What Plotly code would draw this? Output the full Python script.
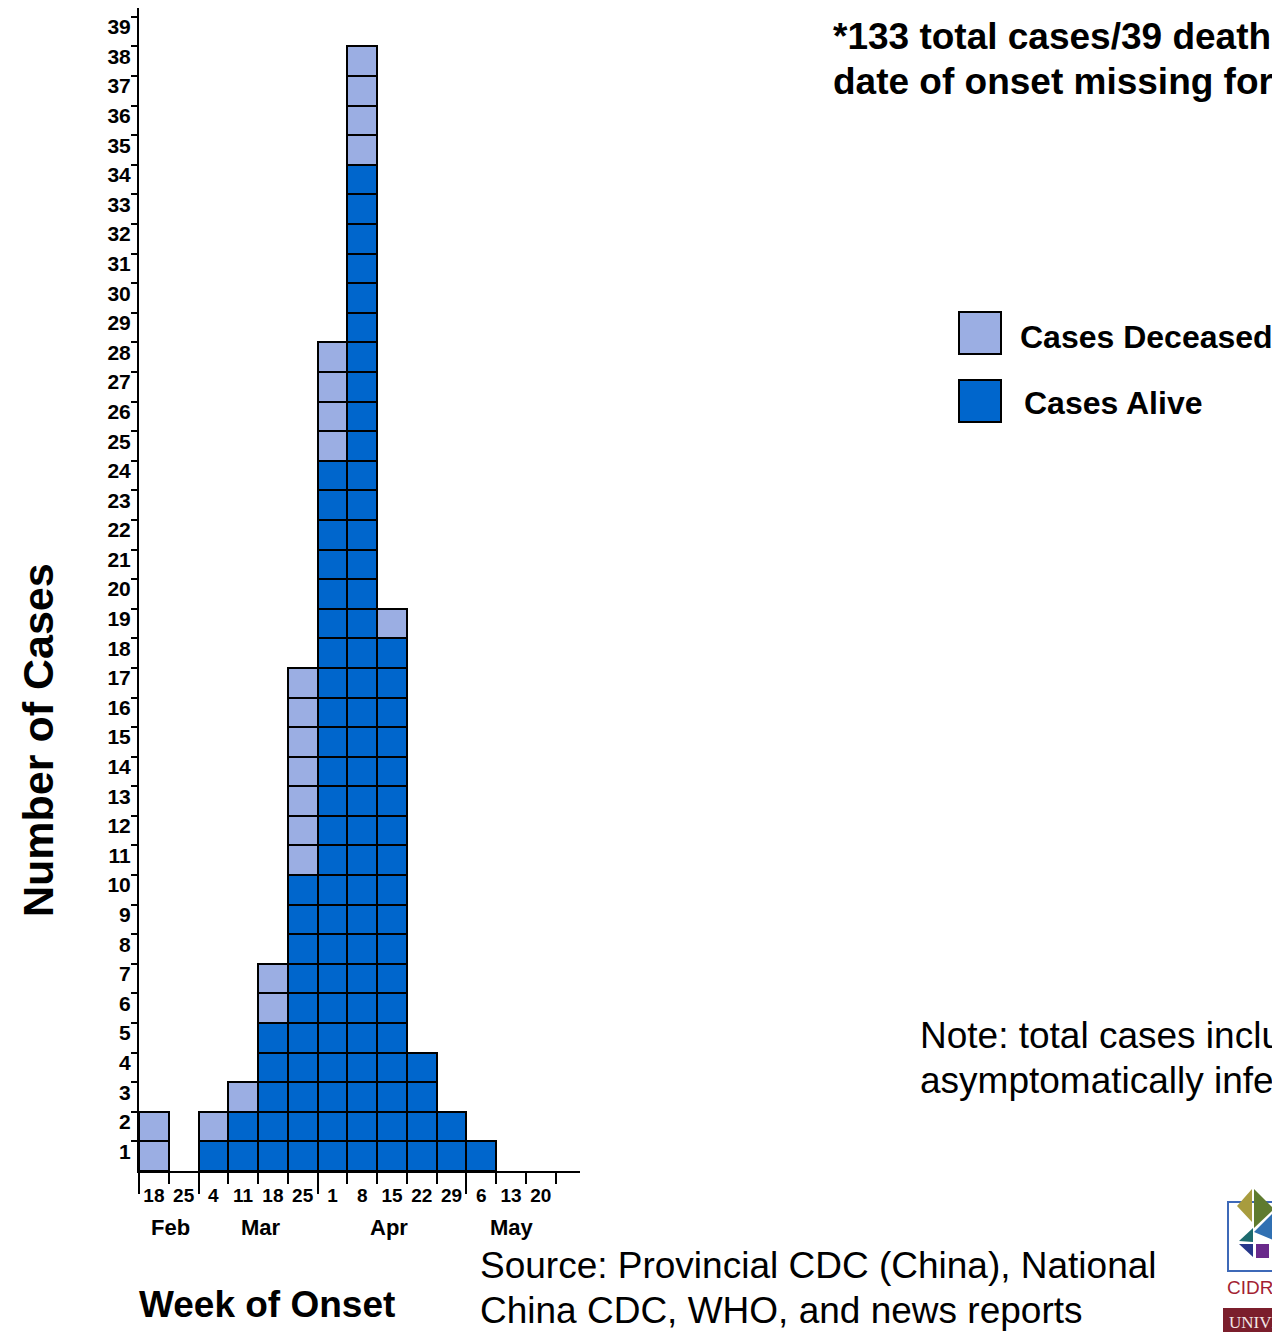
import plotly.graph_objects as go

# ---- data ----
weeks = ["18", "25", "4", "11", "18", "25", "1", "8", "15", "22", "29", "6", "13", "20"]
alive = [0, 0, 1, 2, 5, 10, 24, 34, 18, 4, 2, 1, 0, 0]
deceased = [2, 0, 1, 1, 2, 7, 4, 4, 1, 0, 0, 0, 0, 0]
months = ["Feb", "Mar", "Apr", "May"]
month_label_pos = [0.55, 3.6, 7.9, 12.05]
month_first_week = [0, 2, 6, 11]
y_ticks = list(range(1, 40))

LIGHT = "#9BAEE3"
DARK = "#0066CC"
FONT = "Liberation Sans, Arial, sans-serif"

# page body margin offset (the page adds 8px around the plot)
OFF = 8
# plot area in reference-page pixels
L, R, T, B = 139, 580, 8, 1171
W, H = 1280 - OFF, 1332 - OFF


def px(x):
    return (x - L) / (R - L)


def py(y):
    return (B - y) / (B - T)


def unit_cells(counts, offsets):
    xs, bases = [], []
    for i, n in enumerate(counts):
        for k in range(n):
            xs.append(i)
            bases.append(offsets[i] + k)
    return xs, bases


ax, ab = unit_cells(alive, [0] * len(alive))
dx, db = unit_cells(deceased, alive)

fig = go.Figure()
fig.add_trace(go.Bar(x=ax, y=[1] * len(ax), base=ab, width=1, name="Cases Alive",
                     marker=dict(color=DARK, line=dict(color="black", width=2)),
                     showlegend=False))
fig.add_trace(go.Bar(x=dx, y=[1] * len(dx), base=db, width=1, name="Cases Deceased",
                     marker=dict(color=LIGHT, line=dict(color="black", width=2)),
                     showlegend=False))
# invisible trace to activate second x axis (long month ticks)
fig.add_trace(go.Scatter(x=[0], y=[0], xaxis="x2", mode="markers",
                         marker=dict(opacity=0), showlegend=False, hoverinfo="skip"))

n = len(weeks)
boundaries = [i - 0.5 for i in range(n + 1)]
month_bounds = [i - 0.5 for i in month_first_week]
XR = [-0.5, 14.32]

fig.update_layout(
    width=W, height=H,
    margin=dict(l=L - OFF, r=W - (R - OFF), t=T - OFF, b=H - (B - OFF)),
    paper_bgcolor="white", plot_bgcolor="white",
    barmode="overlay", bargap=0,
    font=dict(family=FONT, color="black"),
    xaxis=dict(range=XR, showline=True, linecolor="black", linewidth=2,
               showgrid=False, zeroline=False,
               tickmode="array", tickvals=list(range(n)), ticktext=weeks,
               ticks="outside", ticklen=6, tickcolor="rgba(0,0,0,0)",
               tickfont=dict(size=19, family=FONT, weight="bold"),
               minor=dict(tickmode="array", tickvals=boundaries, ticks="outside",
                          ticklen=11, tickwidth=2, tickcolor="black")),
    xaxis2=dict(range=XR, overlaying="x", anchor="y", side="bottom",
                showline=False, showgrid=False, zeroline=False,
                tickmode="array", tickvals=month_bounds, ticks="outside",
                ticklen=22, tickwidth=2, tickcolor="black", showticklabels=False),
    yaxis=dict(range=[0, 39.3], showline=True, linecolor="black", linewidth=2,
               showgrid=False, zeroline=False,
               tickmode="array", tickvals=y_ticks, ticktext=[str(v) for v in y_ticks],
               ticks="outside", ticklen=6, tickwidth=2, tickcolor="black",
               ticklabelshift=10, ticklabelstandoff=-4,
               tickfont=dict(size=21, family=FONT, weight="bold")),
)

ann = []
# month labels
for m, p in zip(months, month_label_pos):
    ann.append(dict(x=p, y=0, xref="x", yref="y", yshift=-56, text=m, showarrow=False,
                    xanchor="center", yanchor="middle",
                    font=dict(size=22, family=FONT, weight="bold")))


def txt(x, y, s, size, bold=False, color="black", anchor="left", angle=0):
    return dict(x=px(x), y=py(y), xref="paper", yref="paper", text=s, showarrow=False,
                xanchor=anchor, yanchor="middle", textangle=angle,
                font=dict(size=size, family=FONT, color=color,
                          weight="bold" if bold else "normal"))


ann += [
    txt(38, 740, "Number of Cases", 43, bold=True, anchor="center", angle=-90),
    txt(137, 1305, "Week of Onset", 37, bold=True),
    txt(478, 1266, "Source: Provincial CDC (China), National", 37),
    txt(478, 1310, "China CDC, WHO, and news reports", 37),
    txt(831, 37, "*133 total cases/39 deaths", 37, bold=True),
    txt(831, 81, "date of onset missing for", 37, bold=True),
    txt(1018, 337, "Cases Deceased", 32, bold=True),
    txt(1022, 403, "Cases Alive", 32, bold=True),
    txt(918, 1035, "Note: total cases include", 37),
    txt(918, 1080, "asymptomatically infected", 37),
    txt(1225, 1287, "CIDRAP", 19, color="#A31F34"),
    dict(x=px(1227), y=py(1322), xref="paper", yref="paper", text="UNIVERSITY",
         showarrow=False, xanchor="left", yanchor="middle",
         font=dict(size=17, family="Liberation Serif, serif", color="#F2E6E6")),
]
fig.update_layout(annotations=ann)


def rect(x0, y0, x1, y1, fill, line="black", lw=2):
    return dict(type="rect", xref="paper", yref="paper", x0=px(x0), x1=px(x1),
                y0=py(y1), y1=py(y0), fillcolor=fill,
                line=dict(color=line, width=lw), layer="below")


def poly(pts, fill):
    d = "M " + " L ".join(f"{px(a):.5f},{py(b):.5f}" for a, b in pts) + " Z"
    return dict(type="path", xref="paper", yref="paper", path=d, fillcolor=fill,
                line=dict(width=0), layer="above")


shapes = [
    rect(959, 312, 1001, 354, LIGHT),
    rect(959, 380, 1001, 422, DARK),
    # logo (approximation)
    rect(1228, 1202, 1292, 1271, "rgba(0,0,0,0)", line="#3E69B8", lw=2),
    poly([(1252, 1189), (1237, 1206), (1252, 1222)], "#A89C3E"),
    poly([(1254, 1189), (1274, 1209), (1254, 1228)], "#5F7B2F"),
    poly([(1254, 1232), (1273, 1213), (1273, 1240)], "#3070B2"),
    poly([(1239, 1241), (1253, 1228), (1253, 1242)], "#1D6B6E"),
    poly([(1239, 1244), (1253, 1244), (1253, 1257)], "#26378A"),
    rect(1256, 1244, 1269, 1258, "#6A2A8B", line="#6A2A8B", lw=0),
    poly([(1274, 1232), (1282, 1228), (1282, 1268), (1274, 1265)], "#9E1B32"),
    rect(1223, 1308, 1290, 1340, "#7B1E2C", line="#7B1E2C", lw=0),
]
fig.update_layout(shapes=shapes)

fig.write_html("out.html")
